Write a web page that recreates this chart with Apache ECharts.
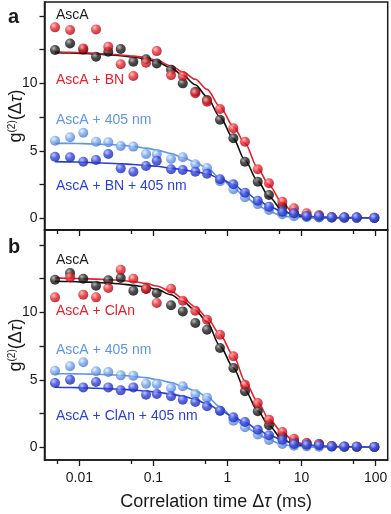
<!DOCTYPE html>
<html>
<head>
<meta charset="utf-8">
<script src="https://cdn.jsdelivr.net/npm/echarts@6/dist/echarts.min.js"></script>
<style>
  html, body { margin: 0; padding: 0; background: #fff; }
  #chart { width: 391px; height: 514px; }
</style>
</head>
<body>
<div id="chart"></div>
<script>
// lag times (ms), shared by every curve
const taus = [0.0047, 0.0075, 0.0113, 0.0168, 0.0246, 0.0362, 0.0536, 0.0795, 0.111, 0.173, 0.249, 0.368, 0.529,
  0.792, 1.20, 1.72, 2.56, 3.63, 5.49, 7.90, 11.7, 17.2, 25.5, 37.7, 55.4, 96]

// panel a : measured points
const blackA = [12.47, 12.96, 12.5, 11.97, 12.34, 12.54, 11.6, 11.78, 11.48, 11.0, 10.0, 9.38, 8.76,
  7.3, 5.93, 4.19, 2.71, 1.73, 0.86, 0.35, 0.15, 0.08, 0.05, 0.04, 0.03, 0.03]
const redA = [14.15, 13.95, 12.59, 14.0, 12.71, 11.41, 10.54, 11.53, 12.39, 10.61, 10.54, 9.26, 8.64,
  8.10, 6.67, 5.67, 3.63, 2.59, 1.23, 0.74, 0.37, 0.24, 0.1, 0.05, 0.05, 0.03]
const lightA = [5.75, 6.0, 6.34, 5.67, 5.63, 5.36, 5.31, 4.76, 4.74, 4.39, 4.52, 4.0, 3.72,
  2.75, 2.15, 1.56, 1.05, 0.62, 0.3, 0.15, 0.08, 0.05, 0.04, 0.03, 0.03, 0.02]
const blueA = [4.56, 4.52, 4.19, 4.32, 4.76, 3.70, 3.45, 3.87, 4.27, 3.63, 3.58, 3.45, 3.30,
  2.89, 2.52, 1.90, 1.30, 0.86, 0.49, 0.37, 0.17, 0.17, 0.07, 0.07, 0.07, 0.02]
// panel a : fit curves
const fitBlackA = [12.27, 12.25, 12.22, 12.18, 12.12, 12.05, 11.95, 11.8, 11.6, 11.15, 10.6, 9.9, 9.0,
  7.5, 5.9, 4.3, 2.75, 1.6, 0.6, 0.2, 0.08, 0.04, 0.02, 0.01, 0.01, 0.01]
const fitRedA = [12.34, 12.3, 12.27, 12.22, 12.17, 12.1, 12.02, 11.9, 11.7, 11.3, 10.85, 10.3, 9.55,
  8.27, 6.79, 5.56, 3.7, 2.47, 1.11, 0.37, 0.12, 0.05, 0.03, 0.02, 0.02, 0.02]
const fitLightA = [5.55, 5.55, 5.53, 5.5, 5.47, 5.42, 5.33, 5.2, 5.05, 4.8, 4.5, 4.15, 3.72,
  3.0, 2.25, 1.6, 0.95, 0.5, 0.17, 0.07, 0.04, 0.02, 0.02, 0.02, 0.02, 0.02]
const fitBlueA = [4.2, 4.18, 4.15, 4.12, 4.08, 4.04, 3.98, 3.92, 3.85, 3.72, 3.6, 3.45, 3.3,
  2.95, 2.5, 1.95, 1.35, 0.88, 0.5, 0.3, 0.15, 0.1, 0.07, 0.05, 0.04, 0.03]

// panel b : measured points
const blackB = [12.42, 12.91, 12.49, 11.97, 12.37, 12.54, 11.6, 11.75, 11.43, 10.52, 10.07, 9.21, 8.71,
  7.36, 5.87, 4.15, 2.67, 1.63, 0.81, 0.45, 0.3, 0.24, 0.08, 0.05, 0.04, 0.03]
const redB = [11.11, 12.59, 11.31, 11.11, 11.8, 13.16, 12.49, 11.73, 10.69, 11.75, 10.86, 10.12, 9.45,
  8.34, 6.74, 4.64, 3.28, 2.05, 1.13, 0.64, 0.32, 0.24, 0.1, 0.05, 0.05, 0.03]
const lightB = [5.67, 6.0, 6.30, 5.63, 5.58, 5.33, 5.31, 4.71, 4.69, 4.39, 4.52, 3.95, 3.68,
  2.7, 1.97, 1.48, 0.95, 0.55, 0.25, 0.12, 0.07, 0.05, 0.04, 0.03, 0.03, 0.02]
const blueB = [4.76, 5.01, 4.44, 4.84, 4.44, 4.22, 4.44, 3.9, 3.95, 3.78, 3.53, 3.36, 3.04,
  2.71, 2.22, 1.87, 1.30, 0.89, 0.56, 0.24, 0.19, 0.15, 0.07, 0.06, 0.05, 0.02]
// panel b : fit curves
const fitBlackB = [12.3, 12.28, 12.25, 12.22, 12.17, 12.1, 12.0, 11.87, 11.7, 11.3, 10.8, 10.15, 9.3,
  7.5, 5.9, 4.25, 2.7, 1.6, 0.6, 0.2, 0.08, 0.04, 0.02, 0.01, 0.01, 0.01]
const fitRedB = [12.55, 12.52, 12.5, 12.46, 12.42, 12.36, 12.28, 12.15, 11.95, 11.55, 11.05, 10.4, 9.6,
  8.35, 6.8, 4.9, 3.35, 2.1, 1.1, 0.45, 0.15, 0.06, 0.03, 0.02, 0.02, 0.02]
const fitLightB = [5.45, 5.45, 5.43, 5.41, 5.38, 5.34, 5.27, 5.16, 5.02, 4.8, 4.5, 4.18, 3.75,
  3.0, 2.2, 1.55, 0.98, 0.55, 0.2, 0.08, 0.04, 0.02, 0.02, 0.02, 0.02, 0.02]
const fitBlueB = [4.45, 4.43, 4.41, 4.38, 4.34, 4.3, 4.25, 4.17, 4.08, 3.95, 3.78, 3.55, 3.2,
  2.75, 2.25, 1.85, 1.32, 0.9, 0.55, 0.28, 0.18, 0.12, 0.07, 0.05, 0.03, 0.02]

const labelsA = ['AscA', 'AscA + BN', 'AscA + 405 nm', 'AscA + BN + 405 nm']
const labelsB = ['AscA', 'AscA + ClAn', 'AscA + 405 nm', 'AscA + ClAn + 405 nm']

// ticks
const xMajor = [0.01, 0.1, 1, 10, 100]
const xMajorLabels = ['0.01', '0.1', '1', '10', '100']
const xMinor = [0.005, 0.05, 0.5, 5, 50]
const yTicks = [0, 2.5, 5, 7.5, 10, 12.5, 15]
const yLabels = [0, 5, 10]

const FONT = 'Arial, "Liberation Sans", sans-serif'
const INK = '#1a1a1a'

// colours: [ball mid, highlight, shade, line]
const pal = {
  black: ['#222222', '#a8a8a8', '#000000', '#111111'],
  red: ['#ee2a32', '#ffb6b6', '#a3000e', '#e8202a'],
  light: ['#7aa8f0', '#e4eeff', '#4676c6', '#5e96ea'],
  blue: ['#3347e0', '#b4bcff', '#1a22a0', '#2a3fd8']
}

function ball(c) {
  return {
    type: 'radial', x: 0.36, y: 0.32, r: 0.72,
    colorStops: [{ offset: 0, color: c[1] }, { offset: 0.45, color: c[0] }, { offset: 1, color: c[2] }]
  }
}

const lx = taus.map(t => Math.log10(t))
function pts(vals) { return vals.map((v, i) => [lx[i], v]) }

function fitSeries(name, vals, c, xi, yi) {
  return {
    name: name, type: 'line', xAxisIndex: xi, yAxisIndex: yi, data: pts(vals),
    smooth: 0.3, smoothMonotone: 'x', showSymbol: false, silent: true,
    lineStyle: { color: c[3], width: 1.6 }, z: 2
  }
}
function dotSeries(name, vals, c, xi, yi) {
  return {
    name: name, type: 'scatter', xAxisIndex: xi, yAxisIndex: yi, data: pts(vals),
    symbolSize: 10, itemStyle: { color: ball(c) }, z: 3
  }
}

const xMin = -2.47, xMax = 2.162

function xAxes(gridIndex, withLabels) {
  const major = {
    gridIndex: gridIndex, type: 'value', position: 'bottom', min: xMin, max: xMax,
    axisLine: { show: true, onZero: false, lineStyle: { color: INK, width: 1.5 } },
    axisTick: { show: true, length: 6, customValues: xMajor.map(v => Math.log10(v)), lineStyle: { color: INK, width: 1.3 } },
    axisLabel: { show: false },
    splitLine: { show: false }
  }
  if (withLabels) {
    major.axisLabel = {
      show: true, customValues: xMajor.map(v => Math.log10(v)), margin: 11,
      fontSize: 14, color: INK, fontFamily: FONT,
      formatter: v => xMajorLabels[Math.round(v) + 2]
    }
    major.name = 'Correlation time Δ{i|τ} (ms)'
    major.nameLocation = 'middle'
    major.nameGap = 33
    major.nameMoveOverlap = false
    major.nameTextStyle = {
      fontSize: 18, color: INK, fontFamily: FONT,
      rich: { i: { fontSize: 18, fontStyle: 'italic', color: INK, fontFamily: FONT } }
    }
  }
  const minor = {
    gridIndex: gridIndex, type: 'value', position: 'bottom', offset: 0, min: xMin, max: xMax,
    axisLine: { show: false, onZero: false },
    axisTick: { show: true, length: 4, customValues: xMinor.map(v => Math.log10(v)), lineStyle: { color: INK, width: 1.3 } },
    axisLabel: { show: false },
    splitLine: { show: false }
  }
  return [major, minor]
}

function yAxis(gridIndex, min, max) {
  return {
    gridIndex: gridIndex, type: 'value', min: min, max: max,
    axisLine: { show: true, onZero: false, lineStyle: { color: INK, width: 1.5 } },
    axisTick: { show: true, length: 5, customValues: yTicks, lineStyle: { color: INK, width: 1.3 } },
    axisLabel: { customValues: yLabels, fontSize: 14, color: INK, margin: 7, fontFamily: FONT },
    splitLine: { show: false },
    name: '{g|g}{s|(2)}{n|(Δ}{i|τ}{n|)}',
    nameLocation: 'middle', nameRotate: 90, nameGap: 19, nameMoveOverlap: false,
    nameTextStyle: {
      color: INK, fontFamily: FONT, fontSize: 18,
      rich: {
        g: { fontSize: 18, color: INK, fontFamily: FONT },
        s: { fontSize: 10, color: INK, fontFamily: FONT, verticalAlign: 'top' },
        n: { fontSize: 18, color: INK, fontFamily: FONT },
        i: { fontSize: 18, color: INK, fontFamily: FONT, fontStyle: 'italic' }
      }
    }
  }
}

const chart = echarts.init(document.getElementById('chart'), null, { renderer: 'canvas' })

const series = [
  fitSeries(labelsA[0], fitBlackA, pal.black, 0, 0),
  fitSeries(labelsA[1], fitRedA, pal.red, 0, 0),
  fitSeries(labelsA[2], fitLightA, pal.light, 0, 0),
  fitSeries(labelsA[3], fitBlueA, pal.blue, 0, 0),
  dotSeries(labelsA[0], blackA, pal.black, 0, 0),
  dotSeries(labelsA[1], redA, pal.red, 0, 0),
  dotSeries(labelsA[2], lightA, pal.light, 0, 0),
  dotSeries(labelsA[3], blueA, pal.blue, 0, 0),

  fitSeries(labelsB[0], fitBlackB, pal.black, 2, 1),
  fitSeries(labelsB[1], fitRedB, pal.red, 2, 1),
  fitSeries(labelsB[2], fitLightB, pal.light, 2, 1),
  fitSeries(labelsB[3], fitBlueB, pal.blue, 2, 1),
  dotSeries(labelsB[0], blackB, pal.black, 2, 1),
  dotSeries(labelsB[1], redB, pal.red, 2, 1),
  dotSeries(labelsB[2], lightB, pal.light, 2, 1),
  dotSeries(labelsB[3], blueB, pal.blue, 2, 1)
]

function tag(text, x, y, color, font) {
  return {
    type: 'text', x: x, y: y, z: 10,
    style: { text: text, fill: color, font: font || ('14px ' + FONT), align: 'left', verticalAlign: 'middle' }
  }
}

const labelColors = [INK, pal.red[3], pal.light[3], pal.blue[3]]
const yA = [15, 80, 120.5, 186]
const yB = [260.5, 311.5, 350, 416.5]

const graphic = [
  tag('a', 8, 17, INK, 'bold 20px ' + FONT),
  tag('b', 8, 247.5, INK, 'bold 20px ' + FONT)
]
labelsA.forEach((t, i) => graphic.push(tag(t, 56, yA[i], labelColors[i])))
labelsB.forEach((t, i) => graphic.push(tag(t, 56, yB[i], labelColors[i])))

chart.setOption({
  animation: false,
  backgroundColor: '#fff',
  grid: [
    { left: 44.5, top: 2, width: 343.2, height: 228, show: true, borderColor: INK, borderWidth: 1.5,
      backgroundColor: 'transparent', containLabel: false, outerBoundsMode: 'none' },
    { left: 44.5, top: 230, width: 343.2, height: 230, show: true, borderColor: INK, borderWidth: 1.5,
      backgroundColor: 'transparent', containLabel: false, outerBoundsMode: 'none' }
  ],
  xAxis: [].concat(xAxes(0, false), xAxes(1, true)),
  yAxis: [yAxis(0, -0.87, 16.03), yAxis(1, -0.94, 16.1)],
  series: series,
  graphic: graphic
})
</script>
</body>
</html>
